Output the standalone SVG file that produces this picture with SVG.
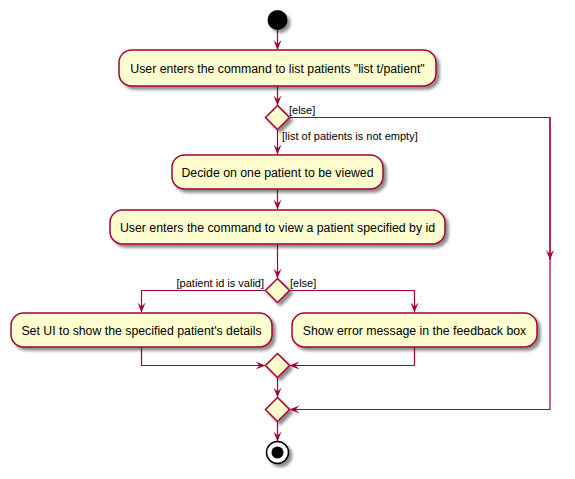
<svg xmlns="http://www.w3.org/2000/svg" width="575" height="479" viewBox="0 0 575 479">
  <style>
    .act { fill: #FEFECE; stroke: #A80036; stroke-width: 1.5; }
    .dia { fill: #FEFECE; stroke: #A80036; stroke-width: 1.5; }
    .lbl { font-family: "Liberation Sans", Arial, sans-serif; font-size: 12.3px; fill: #000000; }
    .grd { font-family: "Liberation Sans", Arial, sans-serif; font-size: 11px; fill: #000000; }
    .edge { fill: none; stroke: #A80036; stroke-width: 1.2; }
  </style>
  <defs>
    <filter id="shadow" x="-20%" y="-20%" width="150%" height="160%">
      <feGaussianBlur in="SourceAlpha" stdDeviation="1.8"/>
      <feOffset dx="3" dy="3" result="b"/>
      <feColorMatrix in="b" type="matrix" values="0 0 0 0 0  0 0 0 0 0  0 0 0 0 0  0 0 0 0.45 0"/>
      <feMerge><feMergeNode/><feMergeNode in="SourceGraphic"/></feMerge>
    </filter>
    <marker id="arrow" viewBox="0 0 10 10" refX="10" refY="5" markerWidth="10" markerHeight="10" markerUnits="userSpaceOnUse" orient="auto">
      <path d="M0,1 L10,5 L0,9 L4,5 Z" fill="#A80036"/>
    </marker>
  </defs>

  <!-- connectors -->
  <g id="connectors">
    <path class="edge" d="M277.5,30 L277.5,50" marker-end="url(#arrow)"/>
    <path class="edge" d="M277.5,86 L277.5,105.5" marker-end="url(#arrow)"/>
    <path class="edge" d="M277.5,129.5 L277.5,154.5" marker-end="url(#arrow)"/>
    <path class="edge" d="M277.5,189.5 L277.5,209.5" marker-end="url(#arrow)"/>
    <path class="edge" d="M277.5,244.5 L277.5,278.5" marker-end="url(#arrow)"/>
    <!-- else branch of first decision -->
    <path class="edge" d="M289.5,117.5 L550,117.5 L550,409.5 L289.5,409.5" marker-end="url(#arrow)"/>
    <path class="edge" d="M550,117.5 L550,260" marker-end="url(#arrow)"/>
    <!-- second decision branches -->
    <path class="edge" d="M265.5,290.5 L141.5,290.5 L141.5,312.5" marker-end="url(#arrow)"/>
    <path class="edge" d="M289.5,290.5 L414.5,290.5 L414.5,312.5" marker-end="url(#arrow)"/>
    <!-- merge -->
    <path class="edge" d="M141.5,347.5 L141.5,365.5 L265.5,365.5" marker-end="url(#arrow)"/>
    <path class="edge" d="M414.5,347.5 L414.5,365.5 L289.5,365.5" marker-end="url(#arrow)"/>
    <path class="edge" d="M277.5,377.5 L277.5,397.5" marker-end="url(#arrow)"/>
    <path class="edge" d="M277.5,421.5 L277.5,441.5" marker-end="url(#arrow)"/>
  </g>

  <!-- guards -->
  <g id="guards">
    <text class="grd" x="289" y="114">[else]</text>
    <text class="grd" x="282" y="140">[list of patients is not empty]</text>
    <text class="grd" x="264" y="287" text-anchor="end">[patient id is valid]</text>
    <text class="grd" x="290" y="287">[else]</text>
  </g>

  <g id="start">
    <circle cx="277.5" cy="20" r="10" fill="#000000" filter="url(#shadow)"/>
  </g>

  <g id="list-patients">
    <rect class="act" x="119" y="50" width="317" height="36" rx="12.5" filter="url(#shadow)"/>
    <text class="lbl" x="277.5" y="72.5" text-anchor="middle">User enters the command to list patients "list t/patient"</text>
  </g>

  <g id="decision-list">
    <polygon class="dia" points="277.5,105.5 289.5,117.5 277.5,129.5 265.5,117.5" filter="url(#shadow)"/>
  </g>

  <g id="decide-patient">
    <rect class="act" x="172" y="155" width="211" height="34" rx="12.5" filter="url(#shadow)"/>
    <text class="lbl" x="277.5" y="176.5" text-anchor="middle">Decide on one patient to be viewed</text>
  </g>

  <g id="view-patient">
    <rect class="act" x="110" y="210" width="335" height="34" rx="12.5" filter="url(#shadow)"/>
    <text class="lbl" x="277.5" y="231.5" text-anchor="middle">User enters the command to view a patient specified by id</text>
  </g>

  <g id="decision-id">
    <polygon class="dia" points="277.5,278.5 289.5,290.5 277.5,302.5 265.5,290.5" filter="url(#shadow)"/>
  </g>

  <g id="show-details">
    <rect class="act" x="11" y="313" width="261" height="34" rx="12.5" filter="url(#shadow)"/>
    <text class="lbl" x="141.5" y="334.5" text-anchor="middle">Set UI to show the specified patient's details</text>
  </g>

  <g id="show-error">
    <rect class="act" x="292" y="313" width="245" height="34" rx="12.5" filter="url(#shadow)"/>
    <text class="lbl" x="414.5" y="334.5" text-anchor="middle">Show error message in the feedback box</text>
  </g>

  <g id="merge-id">
    <polygon class="dia" points="277.5,353.5 289.5,365.5 277.5,377.5 265.5,365.5" filter="url(#shadow)"/>
  </g>

  <g id="merge-list">
    <polygon class="dia" points="277.5,397.5 289.5,409.5 277.5,421.5 265.5,409.5" filter="url(#shadow)"/>
  </g>

  <g id="stop">
    <circle cx="277.5" cy="452.5" r="11" fill="#FFFFFF" stroke="#000000" stroke-width="1.5" filter="url(#shadow)"/>
    <circle cx="277.5" cy="452.5" r="6" fill="#000000"/>
  </g>
</svg>
